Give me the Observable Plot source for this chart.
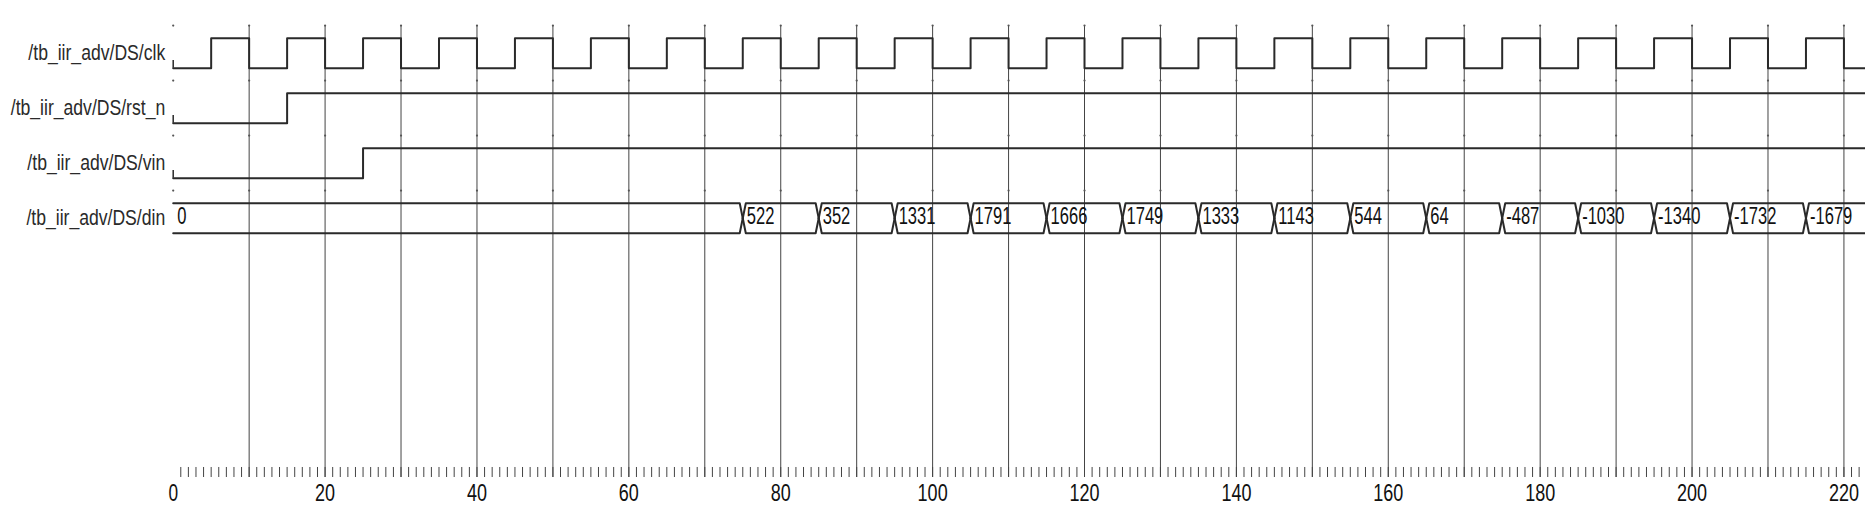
<!DOCTYPE html>
<html>
<head>
<meta charset="utf-8">
<script src="https://cdn.jsdelivr.net/npm/d3@7"></script>
<script src="https://cdn.jsdelivr.net/npm/@observablehq/plot@0.6"></script>
<style>
  html, body { margin: 0; padding: 0; background: #fff; }
  svg { display: block; }
</style>
</head>
<body>
<div id="chart"></div>
<script>
// ---- data ----
const simEnd = 222.84;                // right edge of the visible window (ns)
const signalNames = ["/tb_iir_adv/DS/clk", "/tb_iir_adv/DS/rst_n", "/tb_iir_adv/DS/vin", "/tb_iir_adv/DS/din"];

const clkTimes  = [0, 5, 10, 15, 20, 25, 30, 35, 40, 45, 50, 55, 60, 65, 70, 75, 80, 85, 90, 95, 100, 105, 110, 115, 120, 125, 130, 135, 140, 145, 150, 155, 160, 165, 170, 175, 180, 185, 190, 195, 200, 205, 210, 215, 220];
const clkLevels = [0, 1, 0, 1, 0, 1, 0, 1, 0, 1, 0, 1, 0, 1, 0, 1, 0, 1, 0, 1, 0, 1, 0, 1, 0, 1, 0, 1, 0, 1, 0, 1, 0, 1, 0, 1, 0, 1, 0, 1, 0, 1, 0, 1, 0];

const rstTimes  = [0, 15];
const rstLevels = [0, 1];

const vinTimes  = [0, 25];
const vinLevels = [0, 1];

const dinTimes  = [0, 75, 85, 95, 105, 115, 125, 135, 145, 155, 165, 175, 185, 195, 205, 215];
const dinValues = ["0", "522", "352", "1331", "1791", "1666", "1749", "1333", "1143", "544", "64", "-487", "-1030", "-1340", "-1732", "-1679"];

const rulerLabels = [0, 20, 40, 60, 80, 100, 120, 140, 160, 180, 200, 220];

// ---- layout helpers (lane units: one lane per signal) ----
const DROP = 30 / 55;       // low level offset inside a lane
const lvl = (lane, level) => lane + (1 - level) * DROP;

function stepData(lane, times, levels) {
  const d = times.map((t, i) => ({lane, t, level: levels[i]}));
  d.push({lane, t: simEnd, level: levels[levels.length - 1]});
  return d;
}
const digital = [
  ...stepData(0, clkTimes, clkLevels),
  ...stepData(1, rstTimes, rstLevels),
  ...stepData(2, vinTimes, vinLevels)
];

// bus (din) outline
const busLane = 3, busTop = busLane, busBottom = busLane + DROP, busMid = busLane + DROP / 2, tip = 0.4;
const busLines = [];
dinTimes.forEach((a, i) => {
  const last = i === dinTimes.length - 1;
  const b = last ? simEnd : dinTimes[i + 1];
  for (const edge of [busTop, busBottom]) {
    const key = i + "-" + edge;
    if (i > 0) busLines.push({k: key, t: a, y: busMid});
    busLines.push({k: key, t: i > 0 ? a + tip : a, y: edge});
    busLines.push({k: key, t: last ? b : b - tip, y: edge});
    if (!last) busLines.push({k: key, t: b, y: busMid});
  }
});
const dinSegs = dinTimes.map((t, i) => ({t, v: dinValues[i]}));

const gridTimes = d3.range(10, 221, 10);
const boundaryDots = [];
for (const t of d3.range(0, 221, 10)) for (let l = 0; l < 4; l++) boundaryDots.push({t, y: l - 0.23});
const minorTicks = d3.range(1, 223);

const FONT = "'Liberation Sans', Arial, sans-serif";
const ink = "#2a2a2a";

const chart = Plot.plot({
  width: 1865,
  height: 518,
  marginLeft: 172.7,
  marginRight: 0,
  marginTop: 0,
  marginBottom: 41,
  style: {background: "#fff", color: ink, fontFamily: FONT, fontSize: "22px"},
  x: {domain: [0, simEnd], axis: null},
  y: {domain: [-0.6855, 7.987], range: [0, 477], axis: null},
  marks: [
    // vertical grid lines every 10 ns
    Plot.ruleX(gridTimes, {y1: () => -0.23, y2: () => 7.987, stroke: "#444", strokeWidth: 1}),
    Plot.dot(boundaryDots, {x: "t", y: "y", r: 1.1, fill: "#555", stroke: null}),
    // ruler minor ticks
    Plot.ruleX(minorTicks, {y1: () => 7.805, y2: () => 7.987, stroke: "#444", strokeWidth: 1}),
    // ruler labels
    Plot.text(rulerLabels, {x: d => d, y: () => 7.987, text: d => String(d), dy: 16, fontSize: 24, lineAnchor: "middle", fill: "#111", ariaLabel: "ruler"}),
    // signal names
    Plot.text(signalNames, {x: () => 0, y: (d, i) => i + DROP / 2, text: d => d, textAnchor: "end", dx: -8, lineAnchor: "middle", fontSize: 22, fill: ink, ariaLabel: "names"}),
    // little start marks of the single-bit signals
    Plot.ruleX([0, 1, 2], {x: () => 0, y1: d => lvl(d, 0), y2: d => lvl(d, 0) - 0.14, stroke: ink, strokeWidth: 1.5}),
    // single-bit waveforms
    Plot.line(digital, {x: "t", y: d => lvl(d.lane, d.level), z: "lane", curve: "step-after", stroke: ink, strokeWidth: 2}),
    // bus waveform
    Plot.line(busLines, {x: "t", y: "y", z: "k", stroke: ink, strokeWidth: 2}),
    Plot.text(dinSegs, {x: "t", y: () => busMid, text: "v", textAnchor: "start", dx: 4, dy: -2, lineAnchor: "middle", fontSize: 23, fill: "#111", ariaLabel: "values"})
  ]
});
document.getElementById("chart").appendChild(chart);

// condense the glyphs horizontally, as in the narrow font of the original viewer
const squeeze = {names: 0.8, values: 0.72, ruler: 0.75};
chart.querySelectorAll("text").forEach(t => {
  let g = t.parentNode, f = null;
  while (g && g !== chart && f === null) {
    const a = g.getAttribute && g.getAttribute("aria-label");
    if (a && squeeze[a] !== undefined) f = squeeze[a];
    g = g.parentNode;
  }
  if (f === null) {
    const s = t.textContent;
    if (signalNames.includes(s)) f = squeeze.names;
    else if (dinValues.includes(s)) f = squeeze.values;
    else f = squeeze.ruler;
  }
  const x = +(t.getAttribute("x") || 0);
  const tr = t.getAttribute("transform") || "";
  t.setAttribute("transform", `${tr} translate(${x},0) scale(${f},1) translate(${-x},0)`);
});
</script>
</body>
</html>
